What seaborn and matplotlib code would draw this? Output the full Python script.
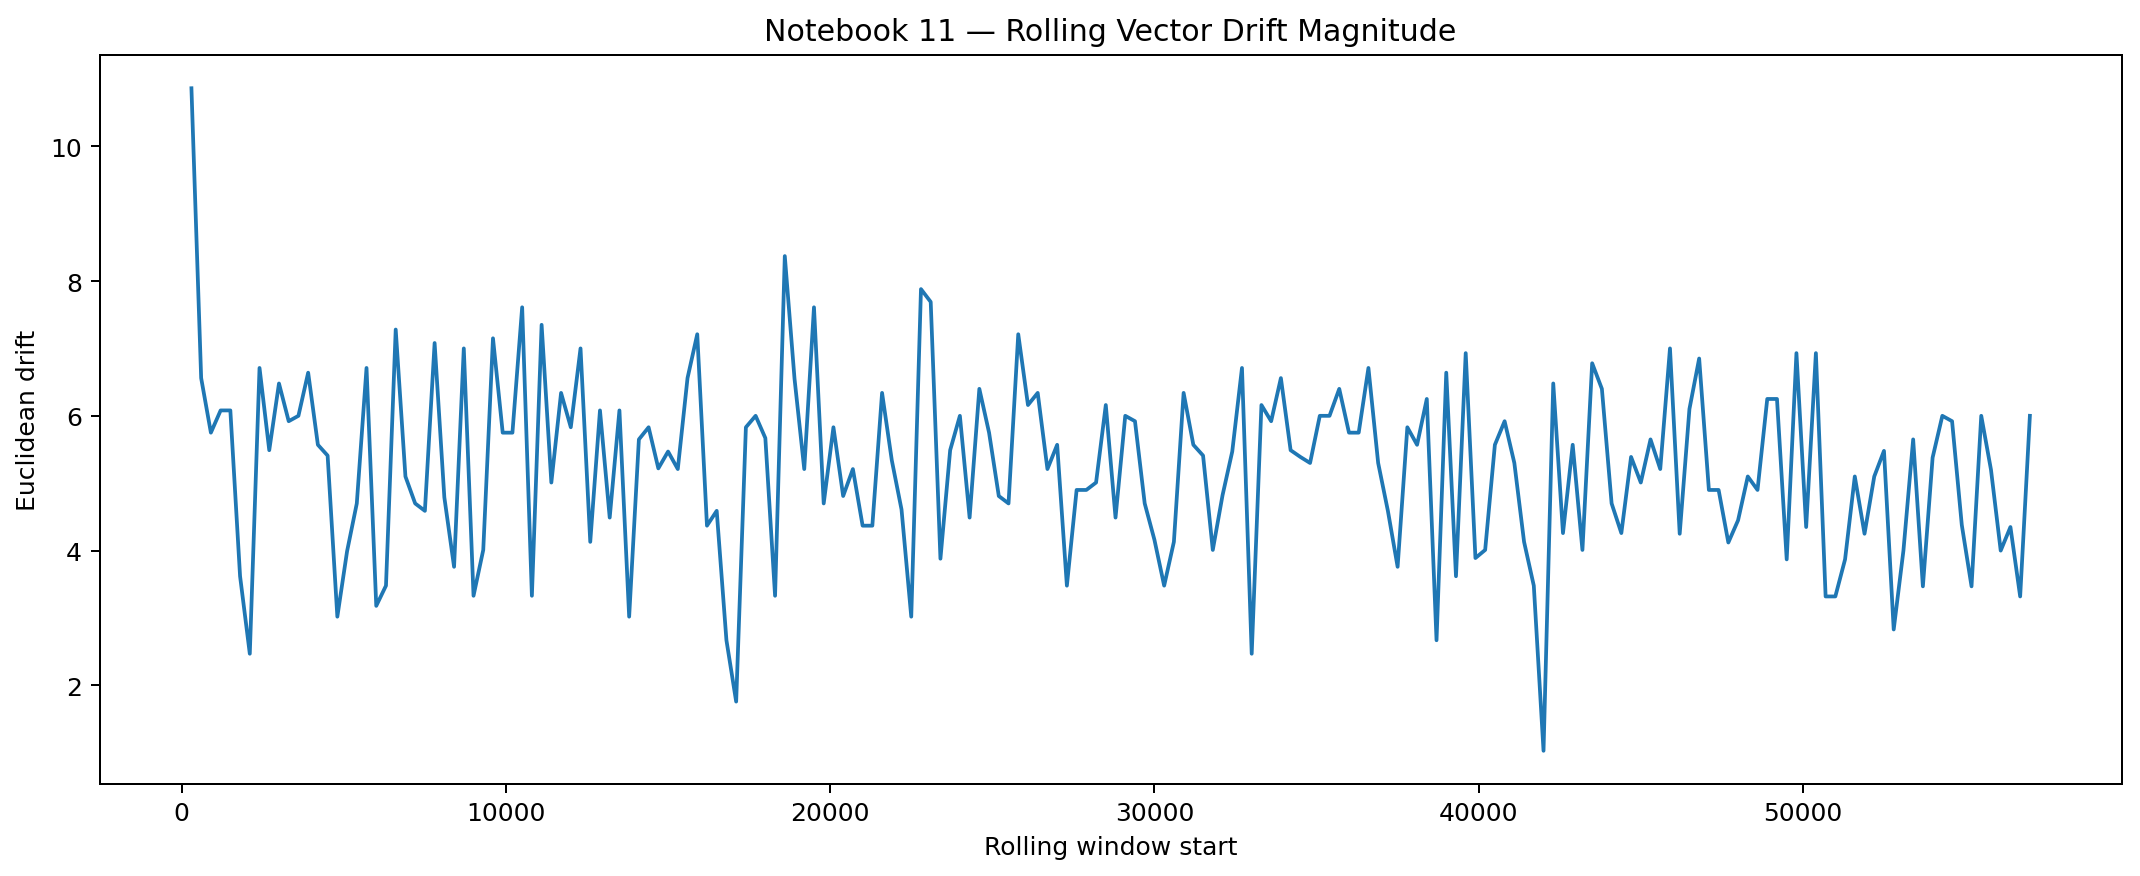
import numpy as np
import pandas as pd
import matplotlib
matplotlib.use("Agg")
import matplotlib.pyplot as plt
import seaborn as sns

window_start = list(range(300, 57001, 300))

drift = [
    10.86, 6.56, 5.75, 6.08, 6.08, 3.62, 2.47, 6.71, 5.49, 6.48,
    5.92, 6.00, 6.64, 5.57, 5.41, 3.02, 3.99, 4.70, 6.71, 3.18,
    3.48, 7.28, 5.10, 4.70, 4.59, 7.08, 4.79, 3.76, 7.00, 3.33,
    4.01, 7.15, 5.75, 5.75, 7.61, 3.33, 7.35, 5.01, 6.34, 5.83,
    7.00, 4.13, 6.08, 4.49, 6.08, 3.02, 5.65, 5.83, 5.22, 5.47,
    5.21, 6.56, 7.21, 4.37, 4.59, 2.67, 1.76, 5.83, 6.00, 5.67,
    3.33, 8.37, 6.55, 5.21, 7.61, 4.70, 5.83, 4.81, 5.21, 4.37,
    4.37, 6.34, 5.34, 4.61, 3.02, 7.88, 7.69, 3.88, 5.49, 6.00,
    4.49, 6.40, 5.75, 4.81, 4.70, 7.21, 6.16, 6.34, 5.21, 5.57,
    3.48, 4.90, 4.90, 5.01, 6.16, 4.49, 6.00, 5.92, 4.70, 4.16,
    3.48, 4.13, 6.34, 5.57, 5.41, 4.01, 4.82, 5.47, 6.71, 2.47,
    6.16, 5.92, 6.56, 5.49, 5.39, 5.30, 6.00, 6.00, 6.40, 5.75,
    5.75, 6.71, 5.30, 4.59, 3.76, 5.83, 5.57, 6.25, 2.67, 6.64,
    3.62, 6.93, 3.89, 4.01, 5.57, 5.92, 5.30, 4.13, 3.48, 1.03,
    6.48, 4.26, 5.57, 4.01, 6.78, 6.40, 4.70, 4.26, 5.39, 5.01,
    5.65, 5.21, 7.00, 4.25, 6.10, 6.85, 4.90, 4.90, 4.12, 4.45,
    5.10, 4.90, 6.25, 6.25, 3.87, 6.93, 4.35, 6.93, 3.32, 3.32,
    3.87, 5.10, 4.25, 5.10, 5.48, 2.83, 4.00, 5.65, 3.47, 5.38,
    6.00, 5.92, 4.38, 3.47, 6.00, 5.20, 4.00, 4.35, 3.32, 6.00,
]

title = "Notebook 11 \u2014 Rolling Vector Drift Magnitude"
x_label = "Rolling window start"
y_label = "Euclidean drift"

df = pd.DataFrame({"start": window_start, "drift": drift})

dpi = 180
fig = plt.figure(figsize=(2140 / dpi, 877 / dpi), dpi=dpi)
ax = fig.add_axes([0.0465, 0.105, 0.945, 0.831])
sns.lineplot(data=df, x="start", y="drift", ax=ax, color="#1f77b4", linewidth=1.5)
ax.set_title(title, fontsize=12)
ax.set_xlabel(x_label, fontsize=10)
ax.set_ylabel(y_label, fontsize=10)
fig.savefig("out.png", dpi=dpi)
